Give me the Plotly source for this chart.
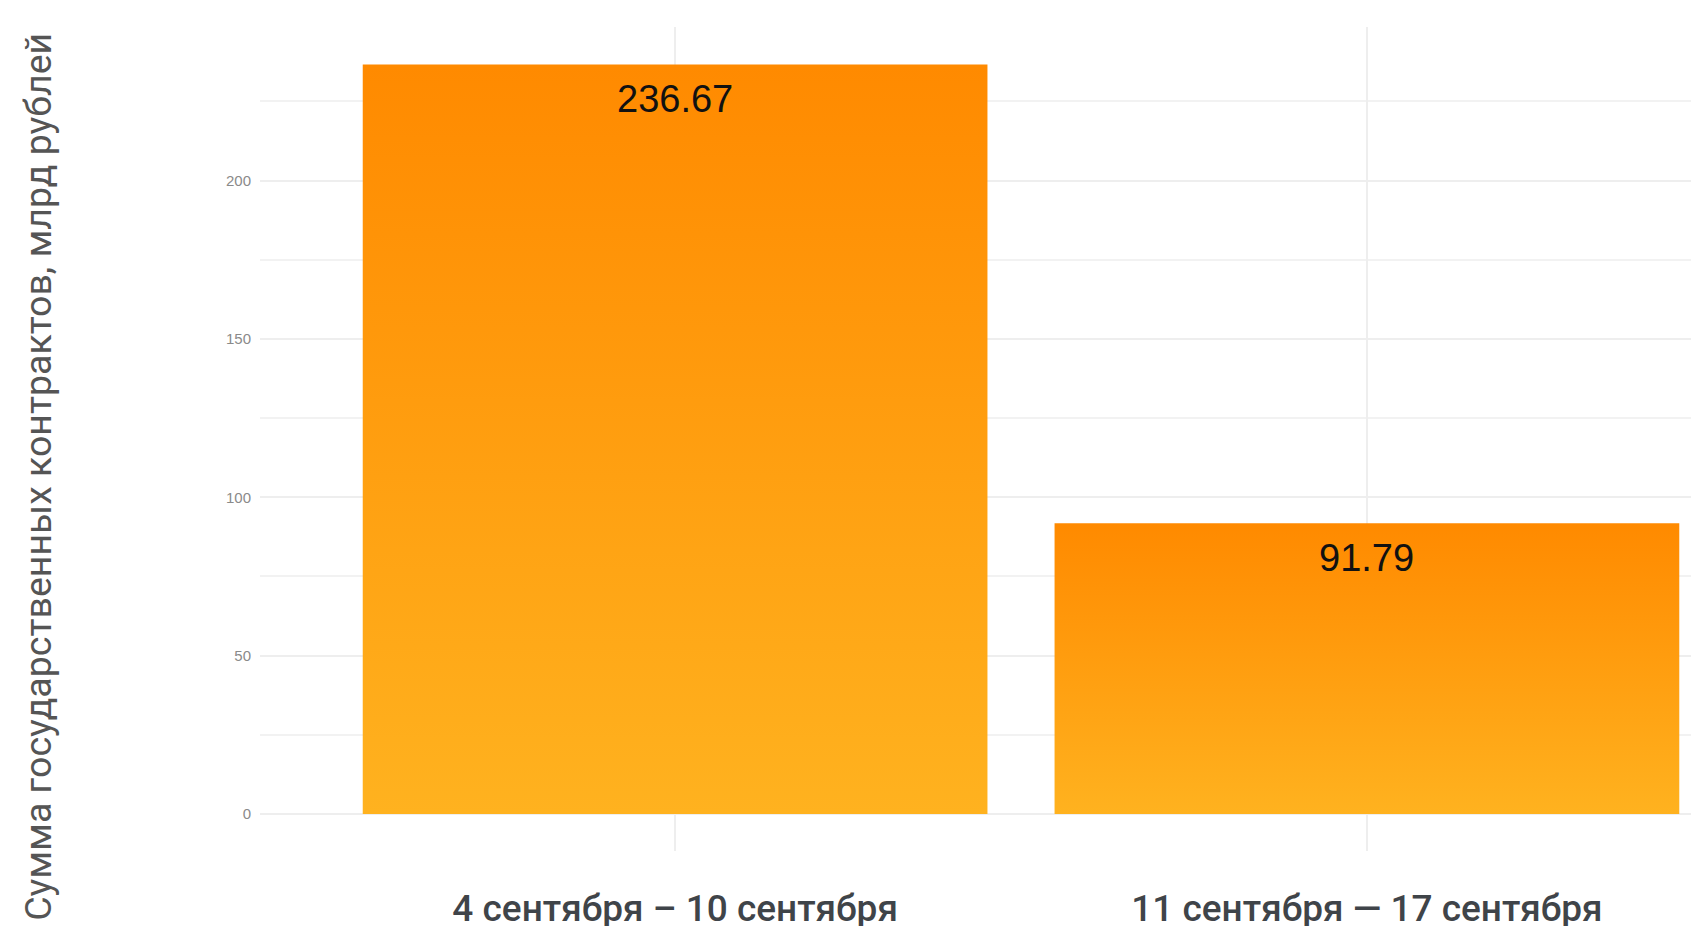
import plotly.graph_objects as go

# ---- data ----
categories = ["4 сентября – 10 сентября", "11 сентября — 17 сентября"]
values = [236.67, 91.79]
y_tick_values = [0, 50, 100, 150, 200]
y_title = "Сумма государственных контрактов, млрд рублей"

# ---- styles ----
BAR_WIDTH = 0.903
TOP_COLOR = "#FF8A00"
BOTTOM_COLOR = "#FFB21F"

fig = go.Figure()

for i, (cat, v) in enumerate(zip(categories, values)):
    x0, x1 = i - BAR_WIDTH / 2, i + BAR_WIDTH / 2
    fig.add_trace(go.Scatter(
        x=[x0, x1, x1, x0, x0],
        y=[0, 0, v, v, 0],
        mode="lines",
        line=dict(width=0),
        fill="toself",
        fillgradient=dict(type="vertical",
                          colorscale=[[0, BOTTOM_COLOR], [1, TOP_COLOR]]),
        hoverinfo="skip",
        showlegend=False,
    ))
    fig.add_annotation(
        x=i, y=v, text=f"{v:.2f}", showarrow=False,
        yanchor="top", yshift=-12,
        font=dict(family="Liberation Sans", size=38, color="#111111"),
    )

# y-axis title as an annotation (it sits lower than the plot-area centre)
fig.add_annotation(
    xref="paper", yref="paper", x=-0.1543, y=0.454,
    text=y_title, textangle=-90, showarrow=False,
    xanchor="center", yanchor="middle",
    font=dict(family="Roboto", size=37.5, color="#555555"),
)

fig.update_layout(
    width=1699, height=926,
    margin=dict(l=252, r=8, t=19, b=83),
    paper_bgcolor="white", plot_bgcolor="white",
    showlegend=False,
    xaxis=dict(
        range=[-0.6, 1.48],
        tickvals=list(range(len(categories))),
        ticktext=categories,
        showgrid=True, gridcolor="#EEEEEE", gridwidth=1.5,
        zeroline=False, showline=False, automargin=False,
        ticks="", ticklabelstandoff=32,
        tickfont=dict(family="Roboto", size=37, color="#3f4449", weight=500),
    ),
    yaxis=dict(
        range=[-11.7, 248.5],
        tickvals=y_tick_values,
        showgrid=True, gridcolor="#EEEEEE", gridwidth=1.5,
        minor=dict(dtick=25, tick0=0, showgrid=True, gridcolor="#F2F2F2", gridwidth=1.5),
        zeroline=False, showline=False, automargin=False,
        ticks="", ticklabelstandoff=8,
        tickfont=dict(family="Liberation Sans", size=15, color="#8a8a8a"),
    ),
)

fig.write_html("out.html")
